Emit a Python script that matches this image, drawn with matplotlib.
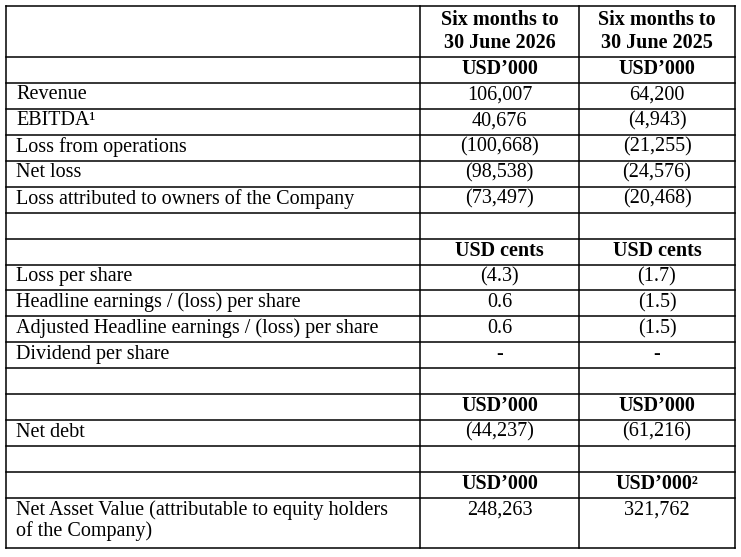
import matplotlib
matplotlib.use("Agg")
import matplotlib.pyplot as plt

labels = ["", "Revenue", "EBITDA\u00b9", "Loss from operations", "Net loss",
          "Loss attributed to owners of the Company", "", "", "Loss per share",
          "Headline earnings / (loss) per share",
          "Adjusted Headline earnings / (loss) per share", "Dividend per share",
          "", "", "Net debt", "", "",
          "Net Asset Value (attributable to equity holders\nof the Company)"]
col2026 = ["USD\u2019000", "106,007", "40,676", "(100,668)", "(98,538)", "(73,497)", "",
           "USD cents", "(4.3)", "0.6", "0.6", "-", "", "USD\u2019000", "(44,237)", "",
           "USD\u2019000", "248,263"]
col2025 = ["USD\u2019000", "64,200", "(4,943)", "(21,255)", "(24,576)", "(20,468)", "",
           "USD cents", "(1.7)", "(1.5)", "(1.5)", "-", "", "USD\u2019000", "(61,216)", "",
           "USD\u2019000\u00b2", "321,762"]
headers = ["Six months to\n30 June 2026", "Six months to\n30 June 2025"]

W, H = 741, 557
fig = plt.figure(figsize=(W/100, H/100), dpi=100)
ax = fig.add_axes([0, 0, 1, 1])
ax.set_xlim(0, W); ax.set_ylim(H, 0); ax.axis("off")

font = "Liberation Serif"
fs = 14.5
x0, x1, x2, x3 = 6, 420, 579, 735
top, hb, step, bottom = 6, 57, 25.94, 548
bounds = [top, hb] + [hb + step*(k+1) for k in range(17)] + [bottom]

lw = 1.1
for y in bounds:
    ax.plot([x0, x3], [y, y], color="black", lw=lw)
for x in (x0, x1, x2, x3):
    ax.plot([x, x], [top, bottom], color="black", lw=lw)

ax.text((x1+x2)/2, (top+hb)/2, headers[0], ha="center", va="center",
        fontsize=fs, fontweight="bold", family=font, linespacing=1.15)
ax.text((x2+x3)/2, (top+hb)/2, headers[1], ha="center", va="center",
        fontsize=fs, fontweight="bold", family=font, linespacing=1.15)

bold_vals = {"USD\u2019000", "USD cents", "USD\u2019000\u00b2"}
for i in range(len(labels)):
    ya, yb = bounds[i+1], bounds[i+2]
    if i == len(labels) - 1:
        ax.text(16, ya + 2, labels[i], ha="left", va="top", fontsize=fs,
                family=font, linespacing=1.1)
        yc = ya + 12
    else:
        yc = (ya + yb) / 2 - 1
        ax.text(16, yc, labels[i], ha="left", va="center", fontsize=fs, family=font)
    for v, xc in ((col2026[i], (x1+x2)/2), (col2025[i], (x2+x3)/2)):
        ax.text(xc, yc, v, ha="center", va="center", fontsize=fs, family=font,
                fontweight="bold" if v in bold_vals else "normal")

fig.savefig("out.png", dpi=100)
